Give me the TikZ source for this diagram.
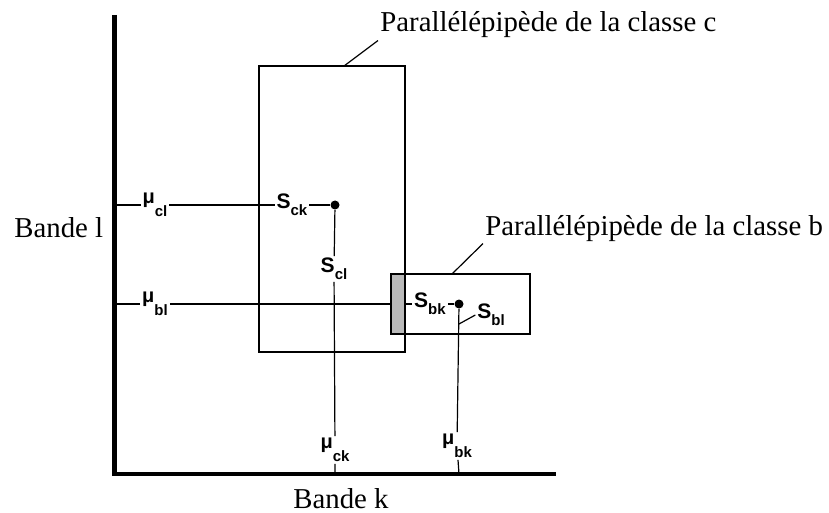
\documentclass[tikz,border=0pt]{standalone}
\usepackage{fontspec}
\setmainfont{Liberation Serif}
\setsansfont{Liberation Sans}
\usetikzlibrary{positioning}

% bold sans labels with a lowered index
\newcommand{\lblS}[2]{\textbf{#1}\raisebox{-3.5pt}{\fontsize{7.5}{7.5}\selectfont\textbf{#2}}}
\newcommand{\lblMu}[1]{{\fontsize{10}{10}\selectfont\textbf{μ}}\raisebox{-6.5pt}{\fontsize{7.5}{7.5}\selectfont\textbf{#1}}}

\begin{document}
\begin{tikzpicture}[x=0.5pt,y=-0.5pt,
    axis/.style={line width=2.4pt},
    box/.style={line width=1.4pt},
    thin/.style={line width=0.6pt},
    lbl/.style={font=\sffamily\fontsize{10.5}{10.5}\selectfont, inner sep=0.8pt},
    title/.style={font=\fontsize{14.4}{16}\selectfont, inner sep=1pt},
    dot/.style={circle, fill, inner sep=0pt, minimum size=4.5pt}]
  \useasboundingbox (0,0) rectangle (829,513);
  % axes
  \coordinate (O) at (114.5,474);
  \coordinate (Ytop) at (114.5,15);
  \coordinate (Xend) at (556,474);
  \draw[axis] (Ytop) -- (O) -- (Xend);
  \node[title, anchor=base west] (bandeL) at (12,237) {Bande l};
  \node[title, anchor=base] (bandeK) at (341,508) {Bande k};
  % class c
  \node[dot] (dc) at (335,205) {};
  \coordinate (ycl) at (114.5,205);
  \coordinate (xck) at (335,474);
  \node[lbl] (mucl) at (155,205) {\lblMu{cl}};
  \node[lbl] (sck) at (292,205) {\lblS{S}{ck}};
  \node[lbl] (scl) at (334,269) {\lblS{S}{cl}};
  \node[lbl] (muck) at (335,450) {\lblMu{ck}};
  \draw[thin] (ycl) -- (mucl) -- (sck) -- (dc);
  \draw[thin] (dc) -- (scl) -- (muck) -- (xck);
  % class b
  \node[dot] (db) at (459,304) {};
  \coordinate (ybl) at (114.5,304);
  \coordinate (xbk) at (459,474);
  \coordinate (sblfoot) at (459,324);
  \node[lbl] (mubl) at (155,304) {\lblMu{bl}};
  \node[lbl] (sbk) at (430,304) {\lblS{S}{bk}};
  \node[lbl] (sbl) at (491,315) {\lblS{S}{bl}};
  \node[lbl] (mubk) at (457,446) {\lblMu{bk}};
  \draw[thin] (ybl) -- (mubl) -- (sbk) -- (db);
  \draw[thin] (db) -- (mubk) -- (xbk);
  \draw[thin] (sblfoot) -- (sbl.west);
  % overlap of the two boxes
  \fill[gray!55] (391,274) rectangle (405,334);
  % boxes
  \draw[box] (259,66) rectangle (405,352);
  \draw[box] (391,274) rectangle (530,334);
  % titles with leaders
  \node[title, anchor=base west] (titleC) at (378,32) {Parallélépipède de la classe c};
  \node[title, anchor=base west] (titleB) at (483,235) {Parallélépipède de la classe b};
  \coordinate (cTop) at (344,66);
  \coordinate (bTop) at (452,274);
  \draw[thin] (cTop) -- (titleC.south west);
  \draw[thin] (bTop) -- (titleB.south west);
\end{tikzpicture}
\end{document}
